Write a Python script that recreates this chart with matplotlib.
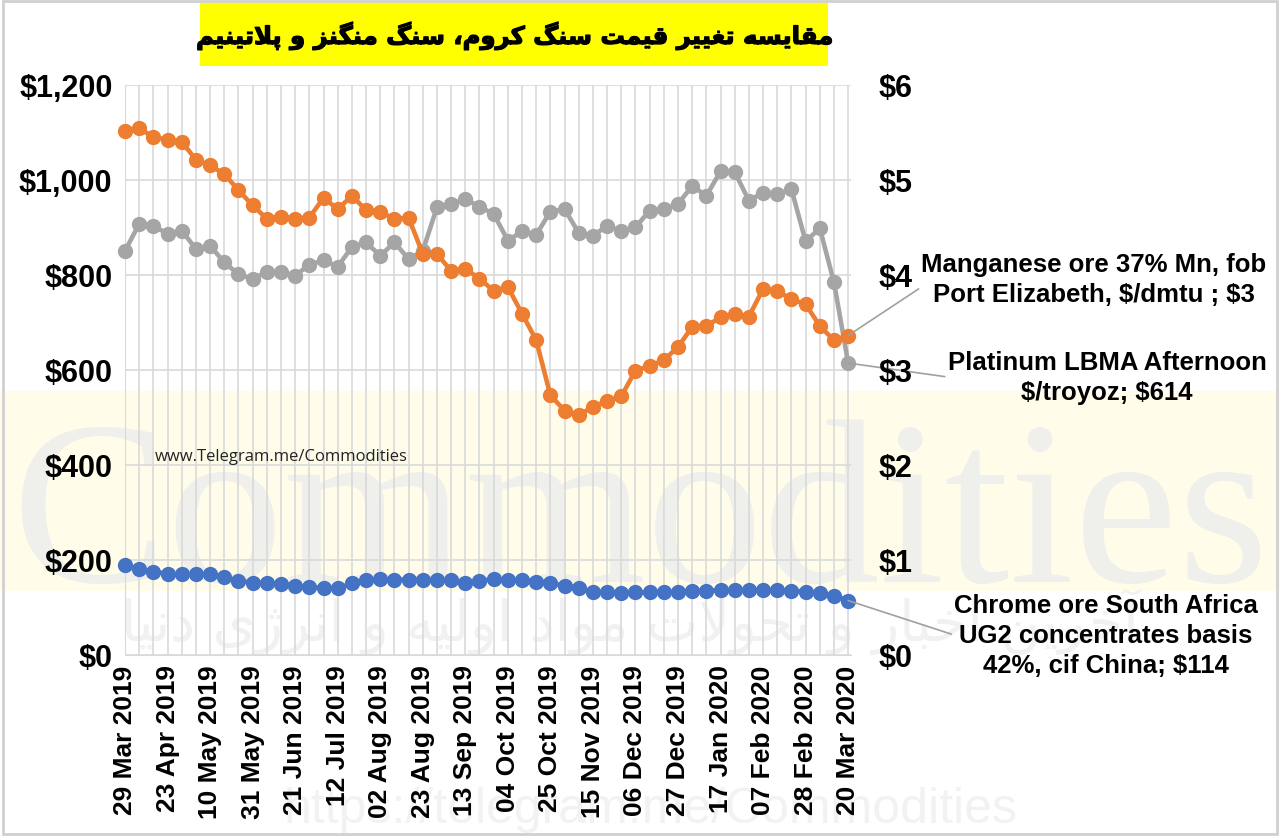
import matplotlib
matplotlib.use('Agg')
import matplotlib.pyplot as plt
import matplotlib.patheffects as pe
from matplotlib.patches import Rectangle

# --- data (weekly, 29 Mar 2019 .. 20 Mar 2020) ---
tick_labels = ['29 Mar 2019', '23 Apr 2019', '10 May 2019', '31 May 2019', '21 Jun 2019',
               '12 Jul 2019', '02 Aug 2019', '23 Aug 2019', '13 Sep 2019', '04 Oct 2019',
               '25 Oct 2019', '15 Nov 2019', '06 Dec 2019', '27 Dec 2019', '17 Jan 2020',
               '07 Feb 2020', '28 Feb 2020', '20 Mar 2020']

# Platinum LBMA afternoon, $/troyoz (left axis)
platinum = [850, 907, 903, 886, 893, 854, 861, 826, 801, 791,
            806, 806, 798, 821, 830, 817, 858, 868, 840, 868,
            833, 850, 942, 949, 959, 943, 928, 872, 891, 884,
            933, 938, 888, 882, 903, 891, 900, 935, 938, 949,
            987, 966, 1018, 1016, 956, 973, 970, 980, 870, 898,
            784, 614]

# Chrome ore UG2 42% cif China, $/t (left axis)
chrome = [189, 180, 175, 170, 169, 169, 170, 164, 155, 152,
          151, 148, 145, 142, 141, 140, 150, 158, 159, 158,
          158, 158, 158, 157, 152, 155, 159, 158, 157, 154,
          152, 144, 140, 133, 131, 130, 131, 131, 131, 133,
          134, 135, 136, 136, 136, 136, 136, 135, 133, 130,
          124, 114]

# Manganese ore 37% Mn fob PE, $/dmtu (right axis)
manganese = [5.51, 5.54, 5.45, 5.42, 5.40, 5.21, 5.15, 5.06, 4.89, 4.73,
             4.59, 4.61, 4.59, 4.60, 4.81, 4.69, 4.83, 4.68, 4.66, 4.59,
             4.60, 4.22, 4.22, 4.04, 4.06, 3.96, 3.83, 3.87, 3.59, 3.31,
             2.73, 2.57, 2.52, 2.61, 2.67, 2.72, 2.99, 3.04, 3.10, 3.24,
             3.45, 3.46, 3.55, 3.59, 3.56, 3.85, 3.83, 3.74, 3.69, 3.46,
             3.31, 3.36]

left_ticks = [0, 200, 400, 600, 800, 1000, 1200]
right_ticks = [0, 1, 2, 3, 4, 5, 6]

title_fa = 'مقایسه تغییر قیمت سنگ کروم، سنگ منگنز و پلاتینیم'
watermark_fa = 'آخرین اخبار و تحولات مواد اولیه و انرژی دنیا'
label_mn = 'Manganese ore 37% Mn, fob\nPort Elizabeth, $/dmtu ; $3'
label_pt = 'Platinum LBMA Afternoon\n$/troyoz; $614'
label_cr = 'Chrome ore South Africa\nUG2 concentrates basis\n42%, cif China; $114'

# --- minimal Persian shaping (matplotlib has no complex text layout) ---
# (isolated, final, initial, medial) or (isolated, final) for right-joining
FORMS = {
    'ا': (0xFE8D, 0xFE8E), 'آ': (0xFE81, 0xFE82), 'ر': (0xFEAD, 0xFEAE),
    'ز': (0xFEAF, 0xFEB0), 'ژ': (0xFB8A, 0xFB8B), 'و': (0xFEED, 0xFEEE),
    'د': (0xFEA9, 0xFEAA),
    'ب': (0xFE8F, 0xFE90, 0xFE91, 0xFE92), 'ت': (0xFE95, 0xFE96, 0xFE97, 0xFE98),
    'ح': (0xFEA1, 0xFEA2, 0xFEA3, 0xFEA4), 'خ': (0xFEA5, 0xFEA6, 0xFEA7, 0xFEA8),
    'س': (0xFEB1, 0xFEB2, 0xFEB3, 0xFEB4), 'غ': (0xFECD, 0xFECE, 0xFECF, 0xFED0),
    'ق': (0xFED5, 0xFED6, 0xFED7, 0xFED8), 'ل': (0xFEDD, 0xFEDE, 0xFEDF, 0xFEE0),
    'م': (0xFEE1, 0xFEE2, 0xFEE3, 0xFEE4), 'ن': (0xFEE5, 0xFEE6, 0xFEE7, 0xFEE8),
    'ه': (0xFEE9, 0xFEEA, 0xFEEB, 0xFEEC), 'پ': (0xFB56, 0xFB57, 0xFB58, 0xFB59),
    'ک': (0xFB8E, 0xFB8F, 0xFB90, 0xFB91), 'گ': (0xFB92, 0xFB93, 0xFB94, 0xFB95),
    'ی': (0xFBFC, 0xFBFD, 0xFBFE, 0xFBFF),
    'LA': (0xFEFB, 0xFEFC),
}


def shape_fa(text):
    units = []
    i = 0
    while i < len(text):
        if text[i] == 'ل' and i + 1 < len(text) and text[i + 1] == 'ا':
            units.append('LA')
            i += 2
        else:
            units.append(text[i])
            i += 1
    out = []
    for k, u in enumerate(units):
        if u not in FORMS:
            out.append(u)
            continue
        f = FORMS[u]
        prev = units[k - 1] if k > 0 else None
        nxt = units[k + 1] if k + 1 < len(units) else None
        jp = prev in FORMS and len(FORMS[prev]) == 4
        jn = len(f) == 4 and nxt in FORMS
        if jp and jn:
            c = f[3]
        elif jp:
            c = f[1]
        elif jn:
            c = f[2]
        else:
            c = f[0]
        out.append(chr(c))
    return ''.join(reversed(out))


plt.rcParams['font.family'] = ['Liberation Sans', 'DejaVu Sans']
plt.rcParams['text.parse_math'] = False

fig = plt.figure(figsize=(12.8, 8.37), dpi=100)
fig.patch.set_facecolor('white')

# background watermark (pale band + faint words)
fig.patches.append(Rectangle((0, 1 - 592 / 837), 1, 200 / 837, transform=fig.transFigure,
                             facecolor='#fffdea', edgecolor='none', zorder=-5))
fig.text(640 / 1280, 1 - 582 / 837, 'Commodities', fontsize=168, family='Liberation Serif',
         color='#efefeb', ha='center', va='baseline', zorder=-4)
fig.text(630 / 1280, 1 - 622 / 837, shape_fa(watermark_fa), fontsize=40, family='DejaVu Sans',
         color='#f1f1f1', ha='center', va='center', zorder=-4)
fig.text(650 / 1280, 1 - 810 / 837, 'https://telegram.me/Commodities', fontsize=36,
         color='#f2f2f2', ha='center', va='center', zorder=-4)
fig.patches.append(Rectangle((0.002, 0.002), 0.996, 0.996, transform=fig.transFigure,
                             facecolor='none', edgecolor='#d0d0d0', lw=2, zorder=10))

ax = fig.add_axes([125 / 1280, 1 - 655.7 / 837, 726 / 1280, 570 / 837])
ax.patch.set_alpha(0)
ax2 = ax.twinx()

n = len(platinum)
x = list(range(n))

ax.plot(x, chrome, color='#4472C4', lw=3.3, marker='o', ms=10, zorder=3, clip_on=False)
ax.plot(x, platinum, color='#A5A5A5', lw=3.3, marker='o', ms=10, zorder=3, clip_on=False)
ax2.plot(x, manganese, color='#ED7D31', lw=3.3, marker='o', ms=10, zorder=3, clip_on=False)

ax.set_xlim(0, 51.2)
ax.set_ylim(0, 1200)
ax2.set_ylim(0, 6)

ax.set_yticks(left_ticks)
ax.set_yticklabels(['${:,}'.format(v) for v in left_ticks])
ax2.set_yticks(right_ticks)
ax2.set_yticklabels(['${}'.format(v) for v in right_ticks])
ax.set_xticks(range(0, n, 3))
ax.set_xticklabels(tick_labels, rotation=90)
ax.set_xticks(range(n), minor=True)

ax.grid(True, which='both', axis='x', color='#d9d9d9', lw=1.2)
ax.grid(True, which='major', axis='y', color='#d9d9d9', lw=1.2)
ax.set_axisbelow(True)

ax.tick_params(axis='both', which='both', length=0)
ax.tick_params(axis='y', labelsize=22, pad=9)
ax.tick_params(axis='x', labelsize=19, pad=7)
ax2.tick_params(axis='y', length=0, labelsize=22, pad=20)
for lab in ax.get_xticklabels() + ax.get_yticklabels() + ax2.get_yticklabels():
    lab.set_fontweight('bold')

for a in (ax, ax2):
    for s in a.spines.values():
        s.set_visible(False)
ax.spines['left'].set_visible(True)
ax.spines['left'].set_color('#d9d9d9')
ax.spines['bottom'].set_visible(True)
ax.spines['bottom'].set_color('#d9d9d9')

# end-of-series labels with leader lines
lead = dict(arrowstyle='-', color='#a0a0a0', lw=1.2, shrinkA=0, shrinkB=0)
ax2.annotate(label_mn, xy=(n - 1, manganese[-1]), xytext=(1094 / 1280, 1 - 280 / 837),
             textcoords='figure fraction', ha='center', va='center', fontsize=18.5,
             fontweight='bold', linespacing=1.3,
             arrowprops=dict(lead, relpos=(0, 0.35)))
ax.annotate(label_pt, xy=(n - 1, platinum[-1]), xytext=(1107 / 1280, 1 - 378 / 837),
            textcoords='figure fraction', ha='center', va='center', fontsize=18.5,
            fontweight='bold', linespacing=1.3,
            arrowprops=dict(lead, relpos=(0, 0.5)))
ax.annotate(label_cr, xy=(n - 1, chrome[-1]), xytext=(1106 / 1280, 1 - 636 / 837),
            textcoords='figure fraction', ha='center', va='center', fontsize=18.5,
            fontweight='bold', linespacing=1.3,
            arrowprops=dict(lead, relpos=(0, 0.5)))

ax.text(155 / 1280, 1 - 457 / 837, 'www.Telegram.me/Commodities', transform=fig.transFigure,
        fontsize=12, family='Open Sans', color='#222222', va='center', ha='left')

# title in yellow box
fig.patches.append(Rectangle((200 / 1280, 1 - 67 / 837), 628 / 1280, 64 / 837,
                             transform=fig.transFigure, facecolor='#ffff00',
                             edgecolor='none', zorder=1))
fig.text(514 / 1280, 1 - 37 / 837, shape_fa(title_fa), fontsize=17.5, fontweight='bold',
         family='DejaVu Sans', ha='center', va='center', zorder=2,
         path_effects=[pe.withStroke(linewidth=0.9, foreground='black')])

fig.savefig('out.png', dpi=100)
